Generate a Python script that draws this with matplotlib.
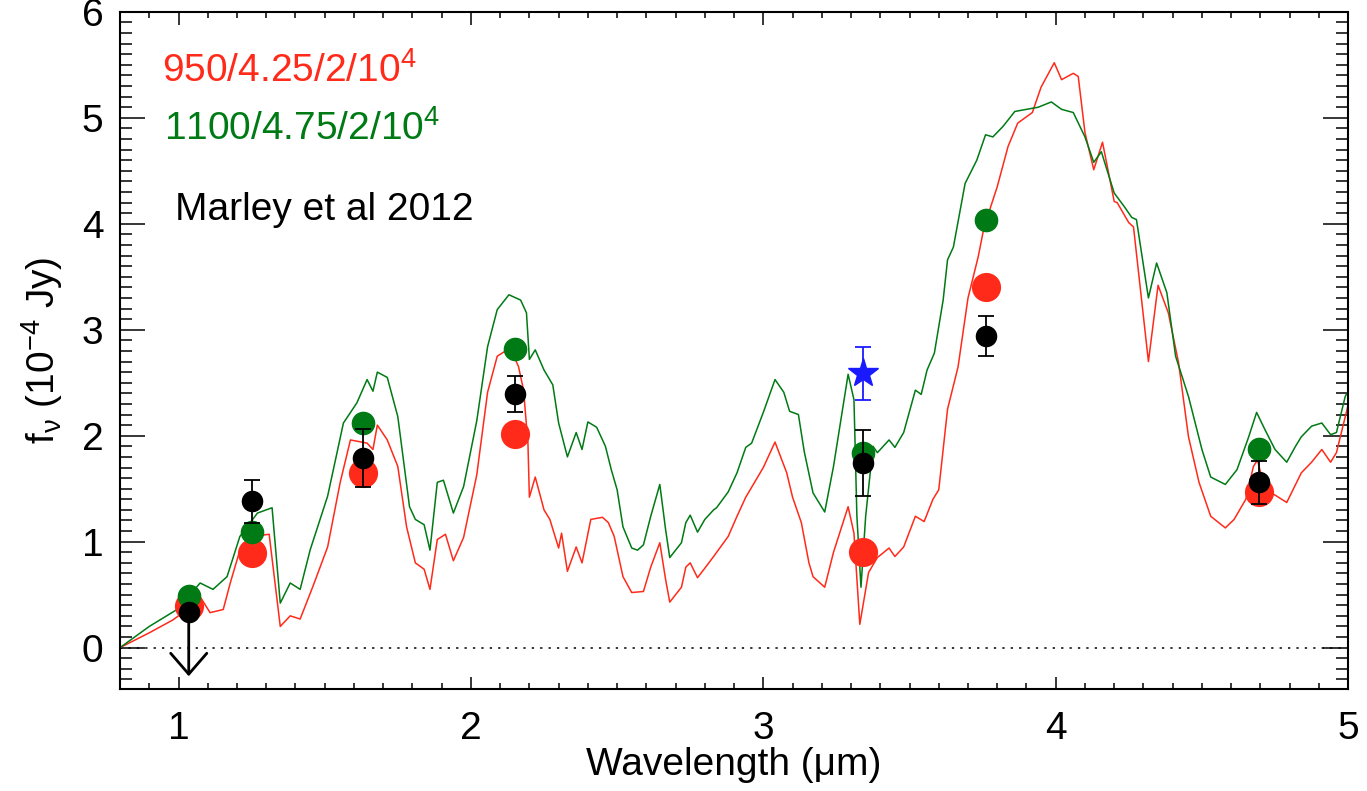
import matplotlib
matplotlib.use("Agg")
import matplotlib.pyplot as plt
import numpy as np
from matplotlib.ticker import MultipleLocator

plt.rcParams['font.family'] = ['Liberation Sans', 'DejaVu Sans']
plt.rcParams['mathtext.fontset'] = 'custom'
plt.rcParams['mathtext.rm'] = 'Liberation Sans'
plt.rcParams['mathtext.it'] = 'Liberation Sans:italic'

# model spectrum 950/4.25/2/1e4
wl_red = [0.80, 0.90, 0.98, 1.03, 1.074, 1.108, 1.153, 1.177, 1.21, 1.256, 1.31, 1.348, 1.382, 1.416,
          1.46, 1.51, 1.553, 1.588, 1.645, 1.665, 1.68, 1.714, 1.75, 1.78, 1.81, 1.84, 1.86, 1.885,
          1.913, 1.94, 1.975, 2.02, 2.057, 2.09, 2.135, 2.163, 2.18, 2.195, 2.20, 2.22, 2.25, 2.27,
          2.30, 2.31, 2.33, 2.36, 2.38, 2.41, 2.45, 2.47, 2.49, 2.52, 2.55, 2.59, 2.615, 2.646, 2.666,
          2.68, 2.72, 2.735, 2.75, 2.775, 2.80, 2.83, 2.88, 2.91, 2.94, 2.97, 3.00, 3.04, 3.08, 3.10,
          3.13, 3.156, 3.17, 3.21, 3.24, 3.29, 3.31, 3.33, 3.36, 3.39, 3.43, 3.45, 3.48, 3.52, 3.55,
          3.58, 3.60, 3.63, 3.666, 3.70, 3.735, 3.755, 3.80, 3.837, 3.87, 3.92, 3.95, 3.995, 4.02,
          4.06, 4.077, 4.10, 4.13, 4.16, 4.20, 4.21, 4.25, 4.266, 4.317, 4.35, 4.385, 4.42, 4.454,
          4.49, 4.53, 4.58, 4.61, 4.65, 4.676, 4.69, 4.715, 4.75, 4.79, 4.84, 4.875, 4.91, 4.94,
          4.96, 4.99, 5.00]
fl_red = [0.00, 0.14, 0.26, 0.36, 0.48, 0.33, 0.36, 0.61, 0.92, 1.05, 1.07, 0.20, 0.30, 0.27,
          0.58, 0.95, 1.56, 1.96, 1.93, 1.87, 2.10, 1.96, 1.71, 1.14, 0.80, 0.74, 0.55, 1.02,
          1.07, 0.82, 1.04, 1.63, 2.41, 2.75, 2.83, 2.65, 2.43, 1.93, 1.42, 1.61, 1.30, 1.21,
          0.94, 1.08, 0.72, 0.95, 0.80, 1.21, 1.23, 1.18, 1.05, 0.67, 0.52, 0.53, 0.76, 0.99, 0.64,
          0.43, 0.57, 0.76, 0.80, 0.66, 0.75, 0.86, 1.05, 1.24, 1.42, 1.56, 1.70, 1.94, 1.65, 1.42,
          1.18, 0.80, 0.67, 0.57, 0.90, 1.33, 1.08, 0.22, 0.71, 0.85, 0.94, 0.86, 0.95, 1.24, 1.19,
          1.40, 1.49, 2.25, 2.65, 3.30, 3.69, 3.97, 4.35, 4.73, 4.95, 5.05, 5.29, 5.52, 5.36,
          5.42, 5.39, 4.86, 4.51, 4.77, 4.21, 4.20, 4.01, 3.97, 2.70, 3.42, 3.16, 2.69, 1.99,
          1.56, 1.24, 1.13, 1.21, 1.40, 1.71, 1.77, 1.49, 1.44, 1.37, 1.65, 1.75, 1.87, 1.75,
          1.84, 2.18, 2.29]

# model spectrum 1100/4.75/2/1e4
wl_grn = [0.80, 0.90, 0.995, 1.074, 1.118, 1.166, 1.21, 1.27, 1.32, 1.348, 1.382, 1.416, 1.45,
          1.51, 1.564, 1.61, 1.645, 1.665, 1.68, 1.714, 1.75, 1.79, 1.81, 1.84, 1.86, 1.885, 1.906,
          1.94, 1.975, 2.02, 2.057, 2.09, 2.13, 2.17, 2.19, 2.20, 2.22, 2.25, 2.28, 2.30, 2.33,
          2.36, 2.38, 2.40, 2.43, 2.46, 2.48, 2.50, 2.52, 2.55, 2.57, 2.59, 2.615, 2.646, 2.666,
          2.68, 2.72, 2.735, 2.75, 2.775, 2.80, 2.83, 2.84, 2.88, 2.91, 2.94, 2.96, 3.00, 3.04,
          3.07, 3.09, 3.12, 3.14, 3.17, 3.21, 3.24, 3.29, 3.31, 3.32, 3.334, 3.35, 3.375, 3.39,
          3.43, 3.45, 3.48, 3.52, 3.54, 3.56, 3.585, 3.615, 3.63, 3.65, 3.69, 3.73, 3.76, 3.785,
          3.82, 3.86, 3.92, 3.94, 3.985, 4.02, 4.06, 4.10, 4.13, 4.156, 4.20, 4.235, 4.26, 4.276,
          4.317, 4.345, 4.38, 4.41, 4.454, 4.50, 4.53, 4.58, 4.62, 4.66, 4.687, 4.715, 4.75, 4.79,
          4.82, 4.84, 4.875, 4.91, 4.94, 4.96, 4.99, 5.00]
fl_grn = [0.00, 0.20, 0.36, 0.61, 0.55, 0.67, 1.05, 1.27, 1.32, 0.42, 0.61, 0.55, 0.92,
          1.43, 2.12, 2.31, 2.53, 2.42, 2.60, 2.55, 2.18, 1.33, 1.21, 1.16, 0.92, 1.56, 1.58,
          1.27, 1.52, 2.14, 2.84, 3.19, 3.33, 3.28, 3.16, 2.72, 2.81, 2.62, 2.48, 2.12, 1.80,
          2.03, 1.87, 2.13, 2.08, 1.90, 1.68, 1.49, 1.14, 0.94, 0.92, 0.97, 1.24, 1.54, 1.11,
          0.85, 0.99, 1.18, 1.25, 1.09, 1.21, 1.30, 1.32, 1.47, 1.65, 1.89, 1.93, 2.22, 2.53,
          2.41, 2.23, 2.20, 1.85, 1.46, 1.28, 1.71, 2.58, 2.34, 1.24, 0.57, 1.24, 1.90, 1.84,
          1.96, 1.89, 2.03, 2.43, 2.39, 2.62, 2.78, 3.28, 3.66, 3.78, 4.38, 4.60, 4.84, 4.82,
          4.92, 5.06, 5.09, 5.10, 5.15, 5.08, 5.05, 4.82, 4.58, 4.68, 4.29, 4.16, 4.06, 4.04,
          3.30, 3.63, 3.35, 2.75, 2.37, 1.87, 1.61, 1.54, 1.68, 1.99, 2.22, 2.06, 1.87, 1.75,
          1.90, 1.99, 2.09, 2.12, 2.01, 2.03, 2.37, 2.42]

# photometry
band_wl = [1.035, 1.25, 1.63, 2.15, 3.34, 3.76, 4.695]
phot_red = [0.39, 0.89, 1.65, 2.02, 0.90, 3.40, 1.47]
phot_grn = [0.49, 1.09, 2.12, 2.82, 1.84, 4.04, 1.87]
obs_flux = [0.34, 1.38, 1.79, 2.39, 1.74, 2.94, 1.56]
obs_err = [0.0, 0.20, 0.27, 0.17, 0.31, 0.19, 0.20]
limit_bottom = -0.27
star_wl, star_flux, star_err = 3.34, 2.59, 0.25

c_red = '#ff2a1a'
c_grn = '#007a14'
fs = 28

fig = plt.figure(figsize=(13.67, 7.91), dpi=100)
ax = fig.add_axes([0.0878, 0.129, 0.8984, 0.856])

ax.plot(wl_red, fl_red, color=c_red, lw=1.1, zorder=2)
ax.plot(wl_grn, fl_grn, color=c_grn, lw=1.1, zorder=2)
ax.axhline(0, color='k', ls=(0, (1.5, 4)), lw=1.1, zorder=1)

ax.plot(band_wl, phot_red, 'o', color=c_red, ms=21, mew=0, zorder=3)
ax.plot(band_wl, phot_grn, 'o', color=c_grn, ms=16, zorder=4)
ax.errorbar(band_wl[1:], obs_flux[1:], yerr=obs_err[1:], fmt='o', color='k', ms=14.5,
            elinewidth=1.3, capsize=6, capthick=1.3, zorder=5)
ax.plot(band_wl[0], obs_flux[0], 'o', color='k', ms=14.5, zorder=5)
# upper limit at the first band
ax.annotate('', xy=(band_wl[0], limit_bottom), xytext=(band_wl[0], obs_flux[0]),
            arrowprops=dict(arrowstyle='->,head_length=0.75,head_width=0.65', lw=2.0, color='k',
                            mutation_scale=20, shrinkA=0, shrinkB=0), zorder=5)
ax.errorbar([star_wl], [star_flux], yerr=[star_err], fmt='*', color='#1a1aff', ms=22,
            elinewidth=1.3, capsize=6, capthick=1.3, zorder=6)

ax.set_xlim(0.8, 5.0)
ax.set_ylim(-0.39, 6.0)
ax.xaxis.set_major_locator(MultipleLocator(1))
ax.xaxis.set_minor_locator(MultipleLocator(0.1))
ax.yaxis.set_major_locator(MultipleLocator(1))
ax.yaxis.set_minor_locator(MultipleLocator(0.1))
ax.tick_params(which='both', direction='in', top=True, right=True, width=1.1)
ax.tick_params(axis='x', which='major', length=9, pad=16, labelsize=fs)
ax.tick_params(axis='x', which='minor', length=4.5)
ax.tick_params(axis='y', which='major', length=18, pad=12, labelsize=fs)
ax.tick_params(axis='y', which='minor', length=8.5)
for s in ax.spines.values():
    s.set_linewidth(1.5)

ax.set_xlabel('Wavelength (μm)', fontsize=fs, labelpad=0)
ax.set_ylabel(r'f$_{\mathrm{ν}}$ (10$^{-4}$ Jy)', fontsize=fs, labelpad=12)

ax.text(0.034, 0.897, '950/4.25/2/10$^4$', transform=ax.transAxes, color=c_red, fontsize=fs)
ax.text(0.036, 0.811, '1100/4.75/2/10$^4$', transform=ax.transAxes, color=c_grn, fontsize=fs)
ax.text(0.045, 0.693, 'Marley et al 2012', transform=ax.transAxes, color='k', fontsize=fs)

fig.savefig('out.png', dpi=100)
